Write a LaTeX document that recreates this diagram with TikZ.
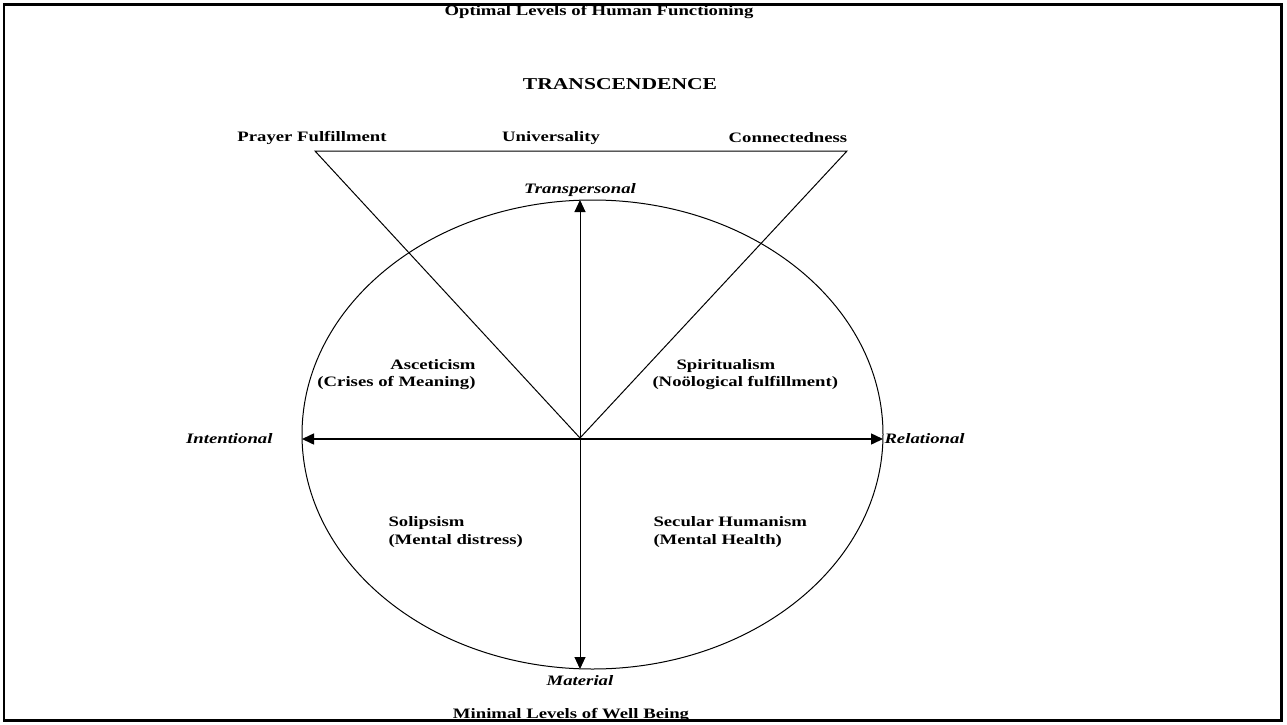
\documentclass[tikz,border=0pt]{standalone}
\usepackage{fontspec}
\setmainfont{Liberation Serif}[FakeStretch=1.3]
\usetikzlibrary{arrows.meta}
\usetikzlibrary{positioning}
\tikzset{lbl/.style = {font=\fontsize{7.2}{8.8}\selectfont\bfseries, inner sep = 0}}
\tikzset{axlbl/.style = {inner sep = 0, font=\fontsize{7.2}{8.8}\selectfont\bfseries\itshape}}
\tikzset{axis/.style = {{Triangle[length=6pt,width=5.5pt]}-{Triangle[length=6pt,width=5.5pt]}}}

\begin{document}
\begin{tikzpicture}[x=0.5pt, y=-0.5pt, line width=0.5pt]
% frame
\useasboundingbox (0, 0) rectangle (1287, 724);
\draw [line width=1.25pt] (4, 4.5) rectangle (1281.5, 720.5);

      \node [lbl] (optimal) at (599, 12) {Optimal Levels of Human Functioning};
      \node [lbl, font=\fontsize{8.3}{10}\selectfont\bfseries] (transc) at (620, 84) {TRANSCENDENCE};
      \node [lbl] (prayer) at (312, 138) {Prayer Fulfillment};
      \node [lbl] (univ) at (551, 138) {Universality};
      \node [lbl] (conn) at (788, 138) {Connectedness};

      \coordinate (pf) at (315, 151);
      \coordinate (cn) at (847, 151);
      \coordinate (o) at (580, 438);
      \coordinate (top) at (580, 200);
      \coordinate (bot) at (580, 669);
      \coordinate (west) at (302, 439);
      \coordinate (east) at (883, 439);

      \draw (592.5, 434.5) ellipse [x radius=290.5, y radius=234.5];
      \draw (pf) -- (cn) -- (o) -- cycle;
      \draw [axis] (top) -- (bot);
      \draw [axis, line width=0.75pt] (west) -- (east);

      \node [axlbl, above=1.5pt of top] (transp) {Transpersonal};
      \node [axlbl, below=3pt of bot] (material) {Material};
      \node [axlbl, left=14.5pt of west] (intent) {Intentional};
      \node [axlbl, right=0.5pt of east] (relat) {Relational};

      \node [lbl, align=right, anchor=east] (ascet) at (476, 374.5) {Asceticism\\(Crises of Meaning)};
      \node [lbl, anchor=west] (spirit) at (676, 366) {Spiritualism};
      \node [lbl, anchor=west] (noo) at (652, 383) {(Noölogical fulfillment)};
      \node [lbl, align=left, anchor=west] (solip) at (388, 532) {Solipsism\\(Mental distress)};
      \node [lbl, align=left, anchor=west] (secular) at (653, 532) {Secular Humanism\\(Mental Health)};

      \node [lbl] (minimal) at (571, 715) {Minimal Levels of Well Being};
    \end{tikzpicture}
\end{document}
